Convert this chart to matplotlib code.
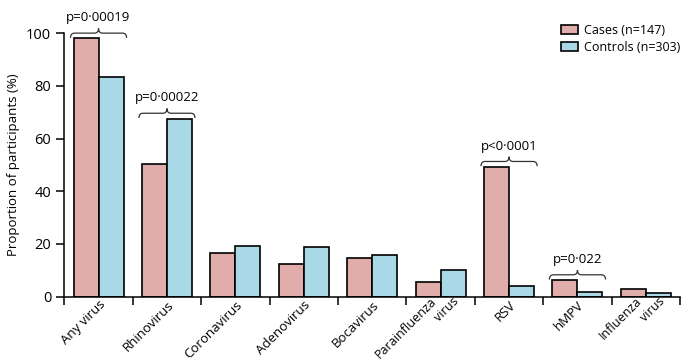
import numpy as np
import matplotlib
matplotlib.use('Agg')
import matplotlib.pyplot as plt
import matplotlib.transforms as mtransforms
from matplotlib.path import Path
from matplotlib.patches import PathPatch

plt.rcParams['font.family'] = ['Open Sans', 'DejaVu Sans']

# data
viruses = ['Any virus', 'Rhinovirus', 'Coronavirus', 'Adenovirus', 'Bocavirus',
           'Parainfluenza virus', 'RSV', 'hMPV', 'Influenza virus']
cases = [98.0, 50.2, 16.4, 12.3, 14.6, 5.5, 49.3, 6.3, 2.9]
controls = [83.2, 67.6, 19.1, 18.7, 15.7, 10.1, 3.9, 1.7, 1.3]
# p values shown over some groups
p_idx = [0, 1, 6, 7]
p_text = ['p=0·00019', 'p=0·00022', 'p<0·0001', 'p=0·022']

pink = '#E1ADAA'
blue = '#A9D8E6'
w = 0.365

fig = plt.figure(figsize=(6.88, 3.64), dpi=100)
ax = fig.add_axes([0.0935, 0.185, 0.895, 0.724])

x = np.arange(len(viruses)) + 0.5
ax.bar(x - w/2, cases, w, color=pink, edgecolor='black', linewidth=1.2, label='Cases (n=147)')
ax.bar(x + w/2, controls, w, color=blue, edgecolor='black', linewidth=1.2, label='Controls (n=303)')


def brace(ax, x0, x1, y, h=1.8):
    xm = (x0 + x1) / 2
    r = 0.06
    verts = [(x0, y - h), (x0, y), (x0 + r, y),
             (xm - r, y), (xm, y), (xm, y + h),
             (xm, y), (xm + r, y),
             (x1 - r, y), (x1, y), (x1, y - h)]
    codes = [Path.MOVETO, Path.CURVE3, Path.CURVE3,
             Path.LINETO, Path.CURVE3, Path.CURVE3,
             Path.CURVE3, Path.CURVE3,
             Path.LINETO, Path.CURVE3, Path.CURVE3]
    ax.add_patch(PathPatch(Path(verts, codes), facecolor='none', edgecolor='#333333',
                           linewidth=0.9, clip_on=False))


for i, t in zip(p_idx, p_text):
    top = max(cases[i], controls[i]) + 2
    brace(ax, x[i] - 0.41, x[i] + 0.41, top)
    ax.text(x[i], top + 3.4, t, ha='center', va='bottom', fontsize=9.5, clip_on=False)

ax.set_xlim(0, len(viruses))
ax.set_ylim(0, 100)
ax.set_xticks(np.arange(len(viruses) + 1))
ax.set_xticklabels([])
ax.tick_params(axis='x', which='major', length=6, width=1.1)
ax.set_yticks([0, 20, 40, 60, 80, 100])
ax.tick_params(axis='y', length=6, width=1.1, labelsize=10.5)
for s in ['top', 'right']:
    ax.spines[s].set_visible(False)
for s in ['left', 'bottom']:
    ax.spines[s].set_linewidth(1.1)
ax.set_ylabel('Proportion of participants (%)', fontsize=9.5)

# category labels, rotated; "... virus" labels are set in two pieces like the original
trans = ax.get_xaxis_transform()
for xi, name in zip(x, viruses):
    words = name.split(' ')
    if len(words) == 2 and words[1] == 'virus' and words[0] != 'Any':
        parts = [(words[0], -4), (words[1], 19)]
        for s, dx in parts:
            off = mtransforms.ScaledTranslation(dx / 100, -5 / 100, fig.dpi_scale_trans)
            ax.text(xi, 0, s, transform=trans + off, rotation=45, ha='right', va='baseline',
                    rotation_mode='anchor', fontsize=9)
    else:
        off = mtransforms.ScaledTranslation(0, -1.5 / 100, fig.dpi_scale_trans)
        ax.text(xi, 0, name, transform=trans + off, rotation=45, ha='right', va='top',
                rotation_mode='anchor', fontsize=9.5)

fig.legend(loc='upper left', bbox_to_anchor=(0.815, 0.935), frameon=False, fontsize=9,
           handlelength=1.4, handleheight=0.8, handletextpad=0.45, labelspacing=0.35,
           borderpad=0, borderaxespad=0)

fig.savefig('out.png', dpi=100)
